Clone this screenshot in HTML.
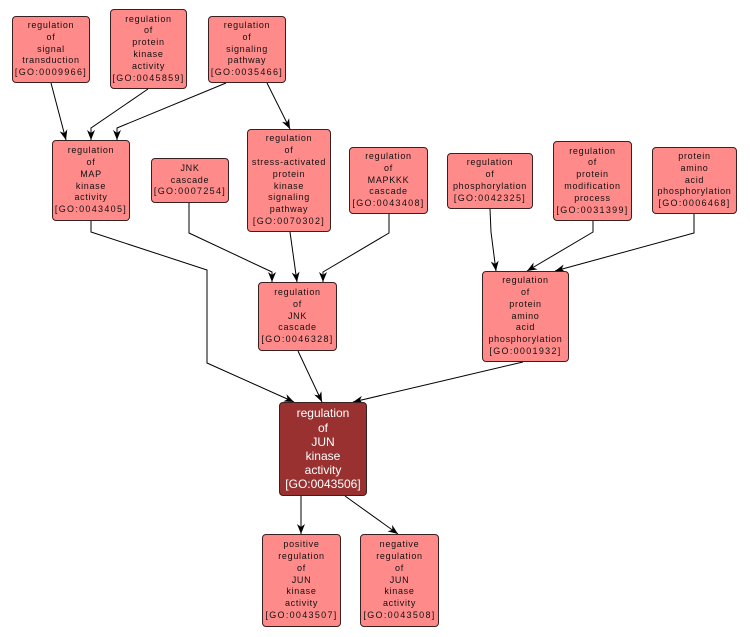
<!DOCTYPE html>
<html><head><meta charset="utf-8">
<style>
html,body{margin:0;padding:0;background:#fff;}
body{width:750px;height:637px;position:relative;overflow:hidden;font-family:"Liberation Sans",Arial,sans-serif;}
.n{position:absolute;box-sizing:border-box;border:1px solid #3a2020;border-radius:4px;background:#ff8a8a;display:flex;align-items:center;justify-content:center;text-align:center;font-size:9px;line-height:11.8px;letter-spacing:0.7px;color:#111;white-space:nowrap;}
.n > div{display:block;}
.n span{letter-spacing:1.3px;}
.m{background:#993131;color:#fff;font-size:12px;line-height:14.2px;letter-spacing:0;}
svg{position:absolute;left:0;top:0;}
</style></head><body>
<svg width="750" height="637" viewBox="0 0 750 637">
<defs><marker id="a" markerUnits="userSpaceOnUse" markerWidth="10" markerHeight="10" refX="10" refY="5" orient="auto"><path d="M0,1 L10,5 L0,9 L3,5 Z" fill="#000"/></marker></defs>
<g fill="none" stroke="#000" stroke-width="1" marker-end="url(#a)">
<path d="M51,83 L66,140"/>
<path d="M148,89 L91,128 L91,140"/>
<path d="M226,83 L117,128 L117,140"/>
<path d="M267,83 L290,129"/>
<path d="M91,221 L91,232 L207,270 L207,363 L294,402"/>
<path d="M189,203 L189,233 L272,272 L272,282"/>
<path d="M290,232 L297,282"/>
<path d="M389,214 L389,233 L323,272 L323,282"/>
<path d="M298,351 L322,402"/>
<path d="M490,209 L491,232 L496,271"/>
<path d="M593,221 L593,232 L527,271"/>
<path d="M694,214 L694,233 L555,271"/>
<path d="M523,362 L353,402"/>
<path d="M301,496 L301,534"/>
<path d="M345,496 L398,534"/>
</g>
</svg>
<div class="n" style="left:12px;top:16px;width:78px;height:67px;"><div>regulation<br>of<br>signal<br>transduction<br><span>[GO:0009966]</span></div></div>
<div class="n" style="left:110px;top:9px;width:77px;height:80px;"><div>regulation<br>of<br>protein<br>kinase<br>activity<br><span>[GO:0045859]</span></div></div>
<div class="n" style="left:208px;top:16px;width:78px;height:67px;"><div>regulation<br>of<br>signaling<br>pathway<br><span>[GO:0035466]</span></div></div>
<div class="n" style="left:52px;top:140px;width:78px;height:81px;"><div>regulation<br>of<br>MAP<br>kinase<br>activity<br><span>[GO:0043405]</span></div></div>
<div class="n" style="left:151px;top:158px;width:78px;height:45px;"><div>JNK<br>cascade<br><span>[GO:0007254]</span></div></div>
<div class="n" style="left:247px;top:129px;width:84px;height:103px;"><div>regulation<br>of<br>stress-activated<br>protein<br>kinase<br>signaling<br>pathway<br><span>[GO:0070302]</span></div></div>
<div class="n" style="left:349px;top:147px;width:79px;height:67px;"><div>regulation<br>of<br>MAPKKK<br>cascade<br><span>[GO:0043408]</span></div></div>
<div class="n" style="left:258px;top:282px;width:79px;height:69px;"><div>regulation<br>of<br>JNK<br>cascade<br><span>[GO:0046328]</span></div></div>
<div class="n" style="left:447px;top:153px;width:86px;height:56px;"><div>regulation<br>of<br>phosphorylation<br><span>[GO:0042325]</span></div></div>
<div class="n" style="left:553px;top:141px;width:79px;height:80px;"><div>regulation<br>of<br>protein<br>modification<br>process<br><span>[GO:0031399]</span></div></div>
<div class="n" style="left:652px;top:147px;width:85px;height:67px;"><div>protein<br>amino<br>acid<br>phosphorylation<br><span>[GO:0006468]</span></div></div>
<div class="n" style="left:482px;top:271px;width:87px;height:91px;"><div>regulation<br>of<br>protein<br>amino<br>acid<br>phosphorylation<br><span>[GO:0001932]</span></div></div>
<div class="n m" style="left:279px;top:402px;width:88px;height:94px;"><div>regulation<br>of<br>JUN<br>kinase<br>activity<br>[GO:0043506]</div></div>
<div class="n" style="left:262px;top:534px;width:79px;height:93px;"><div>positive<br>regulation<br>of<br>JUN<br>kinase<br>activity<br><span>[GO:0043507]</span></div></div>
<div class="n" style="left:360px;top:534px;width:79px;height:93px;"><div>negative<br>regulation<br>of<br>JUN<br>kinase<br>activity<br><span>[GO:0043508]</span></div></div>
</body></html>
